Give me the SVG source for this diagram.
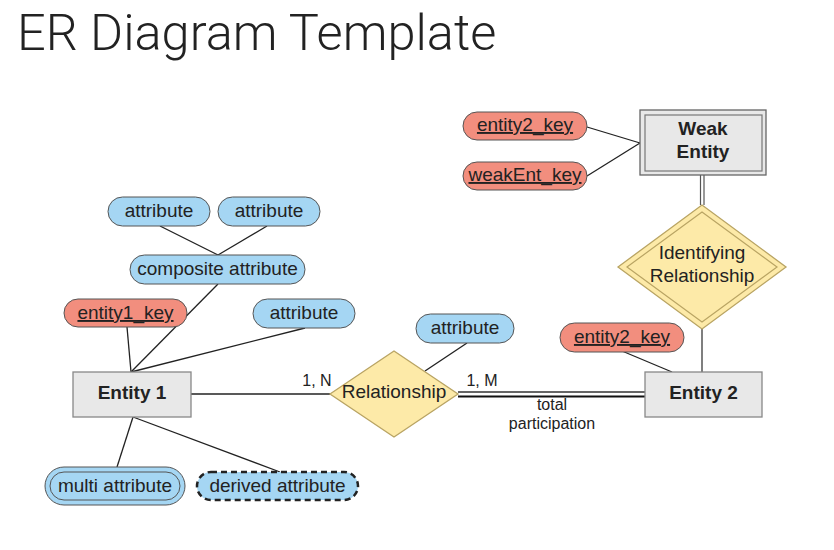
<svg xmlns="http://www.w3.org/2000/svg" width="834" height="550" viewBox="0 0 834 550">
<style>
.t{font-family:"Liberation Sans",Arial,sans-serif;font-size:19px;fill:#222;text-anchor:middle}
.b{font-weight:bold}
.s{font-size:16px}
.k{text-decoration:underline}
.attr{fill:#a5d6f3;stroke:#555;stroke-width:1}
.key{fill:#f28e7e;stroke:#555;stroke-width:1}
.ent{fill:#e8e8e8;stroke:#888;stroke-width:1.3}
.rel{fill:#fdeaa8;stroke:#b9a463;stroke-width:1.3}
.ln{stroke:#222;stroke-width:1.3;fill:none}
</style>
<rect width="834" height="550" fill="#fff"/>
<text x="17" y="50" style="font-family:Roboto,'Liberation Sans',sans-serif;font-weight:300;font-size:50.5px;fill:#222">ER Diagram Template</text>

<g id="connectors">
<line class="ln" x1="160" y1="226" x2="218" y2="255"/>
<line class="ln" x1="267" y1="226" x2="218" y2="255"/>
<line class="ln" x1="218" y1="284" x2="131" y2="372"/>
<line class="ln" x1="127" y1="327" x2="131" y2="372"/>
<line class="ln" x1="305" y1="328" x2="131" y2="372"/>
<line class="ln" x1="133" y1="417" x2="117" y2="467"/>
<line class="ln" x1="133" y1="417" x2="280" y2="472"/>
<line class="ln" x1="191" y1="394" x2="330" y2="394"/>
<line class="ln" x1="467" y1="343" x2="425" y2="371"/>
<line x1="458" y1="392" x2="645" y2="392" stroke="#333" stroke-width="1.3"/>
<line x1="458" y1="396.5" x2="645" y2="396.5" stroke="#111" stroke-width="2"/>
<line class="ln" x1="622" y1="351" x2="672" y2="372"/>
<line x1="702" y1="328" x2="702" y2="372" stroke="#555" stroke-width="1.5"/>
<line x1="700.5" y1="175" x2="700.5" y2="205" stroke="#555" stroke-width="1.2"/>
<line x1="704" y1="175" x2="704" y2="205" stroke="#555" stroke-width="1.2"/>
<line class="ln" x1="587" y1="127" x2="640" y2="143"/>
<line class="ln" x1="587" y1="176" x2="640" y2="143"/>
<text class="t s" x="317" y="386">1, N</text>
<text class="t s" x="482" y="386">1, M</text>
<text class="t s" x="552" y="410">total</text>
<text class="t s" x="552" y="429">participation</text>
</g>

<g id="attr-top-left">
<rect class="attr" x="108" y="197" width="102" height="29" rx="14.5"/>
<text class="t" x="159" y="217">attribute</text>
</g>
<g id="attr-top-right">
<rect class="attr" x="218" y="197" width="102" height="29" rx="14.5"/>
<text class="t" x="269" y="217">attribute</text>
</g>
<g id="composite-attr">
<rect class="attr" x="130" y="255" width="175" height="29" rx="14.5"/>
<text class="t" x="217.5" y="275">composite attribute</text>
</g>
<g id="entity1-key">
<rect class="key" x="64" y="299" width="123" height="28" rx="14"/>
<text class="t k" x="125.5" y="319">entity1_key</text>
</g>
<g id="attr-mid">
<rect class="attr" x="253" y="299" width="102" height="29" rx="14.5"/>
<text class="t" x="304" y="319">attribute</text>
</g>
<g id="entity1">
<rect class="ent" x="73" y="372" width="118" height="45"/>
<text class="t b" x="132" y="399">Entity 1</text>
</g>
<g id="multi-attr">
<rect class="attr" x="45" y="467" width="140" height="38" rx="19"/>
<rect x="50" y="472" width="130" height="28" rx="14" fill="none" stroke="#555" stroke-width="1"/>
<text class="t" x="115" y="492">multi attribute</text>
</g>
<g id="derived-attr">
<rect class="attr" x="197" y="472" width="161" height="28" rx="14" style="stroke:#222;stroke-width:2.5;stroke-dasharray:6 4"/>
<text class="t" x="277.5" y="492">derived attribute</text>
</g>
<g id="relationship">
<polygon class="rel" points="330,394 394,351 458,394 394,437"/>
<text class="t" x="394" y="398">Relationship</text>
</g>
<g id="rel-attr">
<rect class="attr" x="416" y="314" width="98" height="29" rx="14.5"/>
<text class="t" x="465" y="334">attribute</text>
</g>
<g id="entity2">
<rect class="ent" x="645" y="372" width="117" height="45"/>
<text class="t b" x="703.5" y="399">Entity 2</text>
</g>
<g id="entity2-key">
<rect class="key" x="560" y="323" width="124" height="29" rx="14.5"/>
<text class="t k" x="622" y="343">entity2_key</text>
</g>
<g id="identifying-rel">
<polygon class="rel" points="618,267 702,205 786,267 702,329"/>
<polygon points="627,267 702,212 777,267 702,322" fill="none" stroke="#b9a463" stroke-width="1.2"/>
<text class="t" x="702" y="259">Identifying</text>
<text class="t" x="702" y="282">Relationship</text>
</g>
<g id="weak-entity">
<rect class="ent" x="640" y="110" width="126" height="65" style="stroke:#666"/>
<rect x="645" y="115" width="117" height="56" fill="none" stroke="#777" stroke-width="1.2"/>
<text class="t b" x="703" y="135">Weak</text>
<text class="t b" x="703" y="158">Entity</text>
</g>
<g id="weak-entity2-key">
<rect class="key" x="463" y="112" width="124" height="28" rx="14"/>
<text class="t k" x="525" y="131">entity2_key</text>
</g>
<g id="weakent-key">
<rect class="key" x="463" y="162" width="124" height="28" rx="14"/>
<text class="t k" x="525" y="181">weakEnt_key</text>
</g>
</svg>
